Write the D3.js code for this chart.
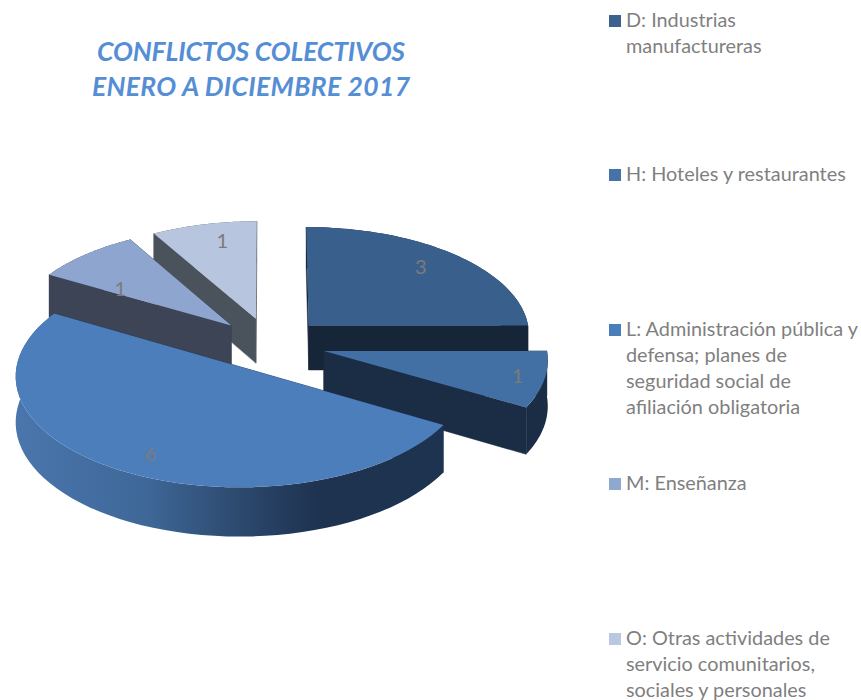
<!DOCTYPE html>
<html>
<head>
<meta charset="utf-8">
<title>Conflictos colectivos</title>
<script src="https://cdn.jsdelivr.net/npm/d3@7"></script>
<style>
  html, body { margin: 0; padding: 0; background: #fff; }
  svg { display: block; }
  text { font-family: Lato, "Open Sans", sans-serif; }
</style>
</head>
<body>
<div id="chart"></div>
<script>
// datos
var titleLines = ["CONFLICTOS COLECTIVOS", "ENERO A DICIEMBRE 2017"];
var categories = ["D", "H", "L", "M", "O"];
var values = [3, 1, 6, 1, 1];
var legendLines = [
  ["D: Industrias", "manufactureras"],
  ["H: Hoteles y restaurantes"],
  ["L: Administración pública y", "defensa; planes de", "seguridad social de", "afiliación obligatoria"],
  ["M: Enseñanza"],
  ["O: Otras actividades de", "servicio comunitarios,", "sociales y personales"]
];

// colores
var topColors = ["#39608d", "#426fa4", "#4c7ebb", "#8ea6cf", "#b7c5de"];
var wallColors = ["#172538", "#1a2d45", "#1e3350", "#3c4456", "#4a525c"];
var legendColors = ["#3a618f", "#4672a8", "#4a7ebb", "#8fa8d0", "#b9c7e0"];

// dimensions
var width = 861, height = 700;
var cx = 270, cy = 344, rx = 222, ry = 108;
var explodeX = 0.25, explodeY = 0.245, depth = 45, focal = 14;
// etiquetas: fraccion del radio y giro respecto a la bisectriz
var labelFit = [0.79, 0.88, 0.83, 0.63, 0.8];
var labelTurn = [-2, 0, -3, -11, 3];
// orden de pintado, de atras hacia adelante
var paintOrder = [4, 3, 0, 1, 2];
var legendBlockY = [20, 174, 329, 483, 638];
var titleWidths = [308, 318];

var svg = d3.select("#chart").append("svg")
  .attr("width", width)
  .attr("height", height);

var xScale = d3.scaleLinear().domain([-1, 1]).range([cx - rx, cx + rx]);
var yScale = d3.scaleLinear().domain([-1, 1]).range([cy - ry, cy + ry]);

// plano inclinado con algo de perspectiva (Y positivo = hacia el observador)
function project(X, Y, drop) {
  var s = 1 / (1 - Y / focal);
  return [xScale(X * s), yScale(Y * s) + (drop ? depth * s : 0)];
}

var pie = d3.pie().sort(null).value(function(d) { return d; });
var arcs = pie(values);

// gradient for the big slice side
var grad = svg.append("defs").append("linearGradient")
  .attr("id", "sideL")
  .attr("gradientUnits", "userSpaceOnUse")
  .attr("x1", 15).attr("x2", 445).attr("y1", 0).attr("y2", 0);
[[0, "#4a76ad"], [0.3, "#3f6899"], [0.5, "#2e4c72"], [0.7, "#1e3350"], [1, "#1e3350"]].forEach(function(s) {
  grad.append("stop").attr("offset", s[0]).attr("stop-color", s[1]);
});

var line = d3.line();

paintOrder.forEach(function(i) {
  var a = arcs[i];
  var mid = (a.startAngle + a.endAngle) / 2;
  var ox = Math.sin(mid) * explodeX;
  var oy = -Math.cos(mid) * explodeY;
  var angles = d3.range(0, 61).map(function(k) {
    return a.startAngle + (a.endAngle - a.startAngle) * k / 60;
  });
  var rim = function(drop) {
    return angles.map(function(t) {
      return project(ox + Math.sin(t), oy - Math.cos(t), drop);
    });
  };
  var g = svg.append("g").attr("class", "slice-" + categories[i]);
  var wall = i === 2 ? "url(#sideL)" : wallColors[i];
  var apexTop = project(ox, oy, false);
  var apexBottom = project(ox, oy, true);
  var rimTop = rim(false);
  var rimBottom = rim(true);

  // paredes radiales
  [0, rimTop.length - 1].forEach(function(k) {
    g.append("path")
      .attr("d", line([apexTop, rimTop[k], rimBottom[k], apexBottom]) + "Z")
      .attr("fill", wallColors[i])
      .attr("stroke", wallColors[i])
      .attr("stroke-width", 0.5);
  });
  // pared exterior
  g.append("path")
    .attr("d", line(rimTop.concat(rimBottom.slice().reverse())) + "Z")
    .attr("fill", wall);
  // tapa
  g.append("path")
    .attr("d", line([apexTop].concat(rimTop)) + "Z")
    .attr("fill", topColors[i]);
});

// etiquetas de datos
arcs.forEach(function(a, i) {
  var mid = (a.startAngle + a.endAngle) / 2;
  var t = mid + labelTurn[i] * Math.PI / 180;
  var ox = Math.sin(mid) * explodeX + Math.sin(t) * labelFit[i];
  var oy = -Math.cos(mid) * explodeY - Math.cos(t) * labelFit[i];
  var p = project(ox, oy, false);
  svg.append("text")
    .attr("x", p[0])
    .attr("y", p[1])
    .attr("dy", "0.35em")
    .attr("text-anchor", "middle")
    .attr("font-size", 20)
    .attr("fill", "#7b7b7b")
    .text(a.data);
});

// titulo
svg.selectAll(".title").data(titleLines).enter().append("text")
  .attr("class", "title")
  .attr("x", 251)
  .attr("y", function(d, i) { return 61 + i * 35; })
  .attr("text-anchor", "middle")
  .attr("font-size", 26.5)
  .attr("font-weight", "bold")
  .attr("font-style", "italic")
  .attr("fill", "#558ed5")
  .attr("textLength", function(d, i) { return titleWidths[i]; })
  .attr("lengthAdjust", "spacing")
  .text(function(d) { return d; });

// leyenda
var legend = svg.selectAll(".legend").data(legendLines).enter().append("g")
  .attr("class", "legend")
  .attr("transform", function(d, i) { return "translate(609," + legendBlockY[i] + ")"; });
legend.append("rect")
  .attr("x", 0).attr("y", -5).attr("width", 12).attr("height", 12)
  .attr("fill", function(d, i) { return legendColors[i]; });
legend.selectAll("text").data(function(d) { return d; }).enter().append("text")
  .attr("x", 17)
  .attr("y", function(d, i) { return i * 26; })
  .attr("dy", "0.35em")
  .attr("font-size", 19.85)
  .attr("fill", "#7f7f7f")
  .text(function(d) { return d; });
</script>
</body>
</html>
